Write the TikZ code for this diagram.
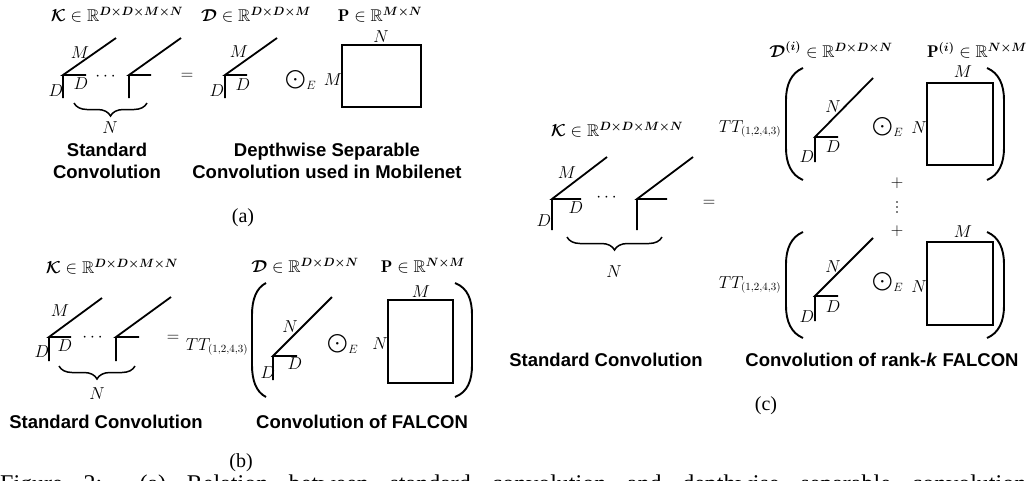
\documentclass[tikz,border=0pt]{standalone}
\usepackage{amsmath,amssymb,bm}
\usepackage{fontspec}
\setsansfont{Liberation Sans}
\newfontfamily\timesfont{Liberation Serif}
\usetikzlibrary{decorations.pathreplacing}
\tikzset{
  edge/.style={line width=1.8pt},
  lab/.style={inner sep=0pt, font=\fontsize{16}{18}\selectfont},
  head/.style={inner sep=0pt, font=\fontsize{17}{20}\selectfont},
  odotlab/.style={inner sep=0pt, font=\fontsize{18.5}{22}\selectfont},
  titletext/.style={inner sep=0pt, align=center, font=\fontsize{18.5}{22}\selectfont\sffamily\bfseries},
  sublab/.style={inner sep=0pt, font=\fontsize{20}{24}\selectfont\timesfont},
  brc/.style={line width=1.5pt, decorate, decoration={brace, amplitude=13pt, mirror}},
  paren/.style={line width=1.9pt},
  mat/.style={line width=1.8pt},
  vdot/.style={circle, fill, inner sep=0pt, minimum size=1.8pt},
}
\begin{document}
\begin{tikzpicture}[x=1pt,y=-1pt]
\useasboundingbox (0,0) rectangle (1031,480);
\clip (0,0) rectangle (1031,480);
% ================= panel (a) =================
\node[head] (aK) at (117,15) {$\bm{\mathcal{K}}\in\mathbb{R}^{\bm{D\times D\times M\times N}}$};
\node[head] (aD) at (256,15) {$\bm{\mathcal{D}}\in\mathbb{R}^{\bm{D\times D\times M}}$};
\node[head] (aP) at (380,15) {$\mathbf{P}\in\mathbb{R}^{\bm{M\times N}}$};
\draw[edge] (116,38) -- (63,75) -- (86,75) (63,75) -- (63,98);
\node[lab] (aM1) at (80,53) {$M$};
\node[lab] (aDh1) at (81,84) {$D$};
\node[lab] (aDv1) at (56,91) {$D$};
\node[lab, anchor=base] (adots) at (107,80) {$\cdots$};
\draw[edge] (181,38) -- (129,75) -- (151,75) (129,75) -- (129,98);
\draw[brc] (74,103) -- (147,103);
\node[lab] (aN) at (110,128) {$N$};
\node[lab] (aeq) at (187,76) {$=$};
\draw[edge] (277,38) -- (225,75) -- (247,75) (225,75) -- (225,98);
\node[lab] (aM2) at (239,52) {$M$};
\node[lab] (aDh2) at (243,85) {$D$};
\node[lab] (aDv2) at (217,91) {$D$};
\node[odotlab] (aodot) at (301,80) {$\bigodot\nolimits_E$};
\node[lab] (aMr) at (333,80) {$M$};
\draw[mat] (342,45) rectangle (421,107);
\node[lab] (aNr) at (381,37) {$N$};
\node[titletext] (at1) at (107,161) {Standard\\Convolution};
\node[titletext] (at2) at (327,161) {Depthwise Separable\\Convolution used in Mobilenet};
\node[sublab] (acap) at (243,218) {(a)};
% ================= panel (b) =================
\node[head] (bK) at (112,267) {$\bm{\mathcal{K}}\in\mathbb{R}^{\bm{D\times D\times M\times N}}$};
\draw[edge] (102,298) -- (49,337) -- (71,337) (49,337) -- (49,361);
\node[lab] (bM1) at (60,311) {$M$};
\node[lab] (bDh1) at (65,346) {$D$};
\node[lab] (bDv1) at (42,352) {$D$};
\node[lab, anchor=base] (bdots) at (94,341) {$\cdots$};
\draw[edge] (171,297) -- (116,337) -- (139,337) (116,337) -- (116,361);
\draw[brc] (59,366) -- (135,366);
\node[lab] (bN) at (97,394) {$N$};
\node[lab] (beq) at (173,338) {$=$};
\node[lab, anchor=base] (bTT) at (217,350) {$TT_{(1,2,4,3)}$};
\draw[paren] (266,283) .. controls (256,288) and (252,300) .. (252,315) -- (252,365) .. controls (252,380) and (256,392) .. (266,397);
\draw[paren] (455,283) .. controls (468,288) and (472,300) .. (472,315) -- (472,365) .. controls (472,380) and (468,392) .. (455,397);
\node[head] (bD) at (305,266) {$\bm{\mathcal{D}}\in\mathbb{R}^{\bm{D\times D\times N}}$};
\node[head] (bP) at (423,266) {$\mathbf{P}\in\mathbb{R}^{\bm{N\times M}}$};
\draw[edge] (332,297) -- (273,356) -- (297,356) (273,356) -- (273,380);
\node[lab] (bN2) at (290,327) {$N$};
\node[lab] (bDh2) at (295,364) {$D$};
\node[lab] (bDv2) at (268,373) {$D$};
\node[odotlab] (bodot) at (343,344) {$\bigodot\nolimits_E$};
\node[lab] (bNr) at (380,344) {$N$};
\draw[mat] (388,300) rectangle (453,383);
\node[lab] (bMr) at (421,292) {$M$};
\node[titletext] (bt1) at (106,422) {Standard Convolution};
\node[titletext] (bt2) at (362,422) {Convolution of FALCON};
\node[sublab] (bcap) at (241,463) {(b)};
% ================= panel (c) =================
\node[head] (cK) at (617,130) {$\bm{\mathcal{K}}\in\mathbb{R}^{\bm{D\times D\times M\times N}}$};
\draw[edge] (607,157) -- (552,199) -- (581,199) (552,199) -- (552,230);
\node[lab] (cM1) at (567,173) {$M$};
\node[lab] (cDh1) at (576,208) {$D$};
\node[lab] (cDv1) at (544,221) {$D$};
\node[lab, anchor=base] (cdots) at (608,201) {$\cdots$};
\draw[edge] (693,157) -- (637,199) -- (667,199) (637,199) -- (637,230);
\draw[brc] (567,237) -- (662,237);
\node[lab] (cN) at (614,272) {$N$};
\node[lab] (ceq) at (709,203) {$=$};
% upper term
\node[head] (cD) at (831,50) {$\bm{\mathcal{D}}^{\bm{(i)}}\in\mathbb{R}^{\bm{D\times D\times N}}$};
\node[head] (cP) at (977,50) {$\mathbf{P}^{\bm{(i)}}\in\mathbb{R}^{\bm{N\times M}}$};
\node[lab, anchor=base] (cTT1) at (750,132) {$TT_{(1,2,4,3)}$};
\draw[paren] (803,68) .. controls (791,73) and (786,85) .. (786,100) -- (786,148) .. controls (786,163) and (791,175) .. (803,180);
\draw[paren] (987,68) .. controls (999,73) and (1004,85) .. (1004,100) -- (1004,148) .. controls (1004,163) and (999,175) .. (987,180);
\draw[edge] (873,78) -- (815,137) -- (838,137) (815,137) -- (815,162);
\node[lab] (cNu) at (833,107) {$N$};
\node[lab] (cDhu) at (833,147) {$D$};
\node[lab] (cDvu) at (807,157) {$D$};
\node[odotlab] (codotu) at (888,127) {$\bigodot\nolimits_E$};
\node[lab] (cNru) at (919,128) {$N$};
\draw[mat] (927,83) rectangle (993,165);
\node[lab] (cMru) at (963,72) {$M$};
\node[lab] (cplus1) at (897,183) {$+$};
\node[vdot] (cvd1) at (897,202) {};
\node[vdot] (cvd2) at (897,207) {};
\node[vdot] (cvd3) at (897,212) {};
\node[lab] (cplus2) at (897,231) {$+$};
% lower term
\node[lab, anchor=base] (cTT2) at (750,288) {$TT_{(1,2,4,3)}$};
\draw[paren] (803,232) .. controls (791,237) and (786,249) .. (786,264) -- (786,306) .. controls (786,321) and (791,333) .. (803,338);
\draw[paren] (987,232) .. controls (999,237) and (1004,249) .. (1004,264) -- (1004,306) .. controls (1004,321) and (999,333) .. (987,338);
\draw[edge] (873,238) -- (815,296) -- (838,296) (815,296) -- (815,321);
\node[lab] (cNl) at (833,267) {$N$};
\node[lab] (cDhl) at (833,307) {$D$};
\node[lab] (cDvl) at (807,317) {$D$};
\node[odotlab] (codotl) at (888,282) {$\bigodot\nolimits_E$};
\node[lab] (cNrl) at (919,287) {$N$};
\draw[mat] (927,242) rectangle (993,325);
\node[lab] (cMrl) at (963,232) {$M$};
\node[titletext] (ct1) at (606,360) {Standard Convolution};
\node[titletext] (ct2) at (882,360) {Convolution of rank-\textit{k} FALCON};
\node[sublab] (ccap) at (766,406) {(c)};
% ================= caption (cut off at the lower edge) =================
\node[anchor=base west, inner sep=0pt, font=\fontsize{24}{28}\selectfont\timesfont] (figcap) at (0,491)
  {\makebox[1026pt][s]{Figure 2: (a) Relation between standard convolution and depthwise separable convolution}};
\end{tikzpicture}
\end{document}
